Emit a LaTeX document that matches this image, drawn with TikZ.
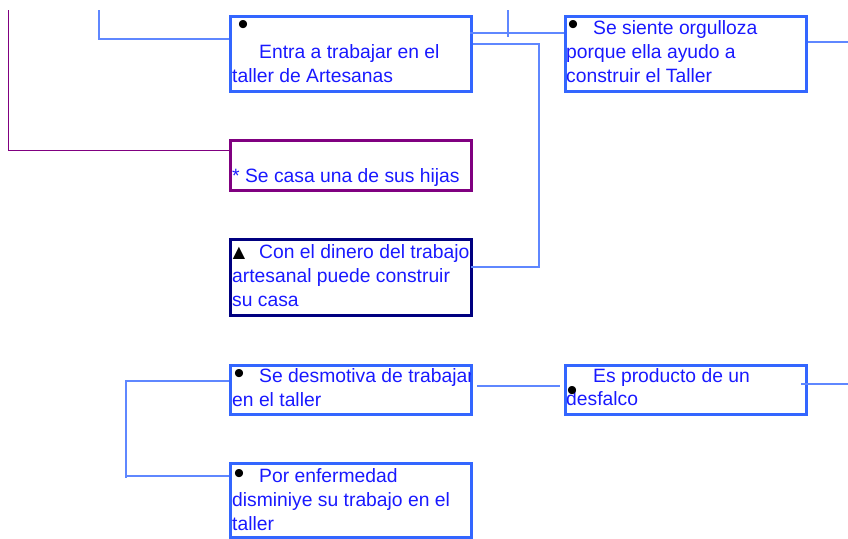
\documentclass[tikz,border=0pt]{standalone}
\usepackage{fontspec}
\setmainfont{Liberation Sans}
\usetikzlibrary{calc}
\definecolor{boxblue}{RGB}{51,102,255}
\definecolor{lineblue}{RGB}{95,135,255}
\definecolor{txtblue}{RGB}{25,25,255}
\definecolor{purp}{RGB}{128,0,128}
\definecolor{navyb}{RGB}{0,0,128}
\begin{document}
\begin{tikzpicture}[x=1pt,y=-1pt,
  box/.style={draw=boxblue, line width=3pt, minimum width=241pt, inner sep=0pt, anchor=north west},
  tx/.style={anchor=base west, inner sep=0pt, text=txtblue, font=\fontsize{19.3}{24}\selectfont},
  bul/.style={anchor=center, inner sep=0pt, font=\fontsize{30}{30}\selectfont},
  lnk/.style={draw=lineblue, line width=1.3pt},
  plnk/.style={draw=purp, line width=1pt}]
\useasboundingbox (0,0) rectangle (848,538);

% boxes
\node[box, minimum height=75pt] (A) at (229,15) {};
\node[box, minimum height=75pt] (B) at (564,15) {};
\node[box, draw=purp, minimum height=50pt] (C) at (229,139) {};
\node[box, draw=navyb, minimum height=76pt] (D) at (229,238) {};
\node[box, minimum height=49pt] (E) at (229,364) {};
\node[box, minimum height=49pt] (F) at (564,364) {};
\node[box, minimum height=74pt] (G) at (229,462) {};

% free ends
\coordinate (p1) at (8,10);
\coordinate (p2) at (99,10);
\coordinate (p3) at (508,10);
\coordinate (p4) at (508,37);
\coordinate (p5) at (848,42);
\coordinate (p6) at (848,384);

% connectors
\draw[plnk] (p1) |- ($(C.north west)+(0,11)$);
\draw[lnk] (p2) |- ($(A.north west)+(0,24)$);
\draw[lnk] (p3) -- (p4);
\draw[lnk] ($(A.north east)+(-3,18)$) -- ($(B.north west)+(0,18)$);
\draw[lnk] ($(A.north east)+(0,29)$) -- (539,44) -- (539,267) -- ($(D.north east)+(-2,29)$);
\draw[lnk] ($(B.north east)+(0,27)$) -- (p5);
\draw[lnk] ($(E.north west)+(0,17)$) -- (126,381) -- (126,478);
\draw[lnk] (126,476) -- ($(G.north west)+(0,14)$);
\draw[lnk] ($(E.north east)+(4,22)$) -- ($(F.north west)+(-4,22)$);
\draw[lnk] ($(F.north east)+(-7,20)$) -- (p6);

% Box A
\node[bul] (a0) at (243,27) {•};
\node[tx] (a1) at (259,58) {Entra a trabajar en el};
\node[tx] (a2) at (232,82) {taller de Artesanas};
% Box B
\node[bul] (b0) at (573,27) {•};
\node[tx] (b1) at (593,34) {Se siente orgulloza};
\node[tx] (b2) at (566,58) {porque ella ayudo a};
\node[tx] (b3) at (566,82) {construir el Taller};
% Box C
\node[tx] (c1) at (232,182) {* Se casa una de sus hijas};
% Box D
\node[bul, font=\fontsize{21}{21}\selectfont] (d0) at (239,253) {▲};
\node[tx] (d1) at (259,258) {Con el dinero del trabajo};
\node[tx] (d2) at (232,282) {artesanal puede construir};
\node[tx] (d3) at (232,306) {su casa};
% Box E
\node[bul] (e0) at (239,376) {•};
\begin{scope}
\clip (229,364) rectangle (470,413);
\node[tx] (e1) at (259,382) {Se desmotiva de trabajar};
\end{scope}
\node[tx] (e2) at (232,406) {en el taller};
% Box F
\node[tx] (f1) at (593,382) {Es producto de un};
\node[tx] (f2) at (566,405) {desfalco};
\node[bul] (f0) at (572,393) {•};
% Box G
\node[bul] (g0) at (239,476) {•};
\node[tx] (g1) at (259,482) {Por enfermedad};
\node[tx] (g2) at (232,506) {disminiye su trabajo en el};
\node[tx] (g3) at (232,530) {taller};
\end{tikzpicture}
\end{document}
